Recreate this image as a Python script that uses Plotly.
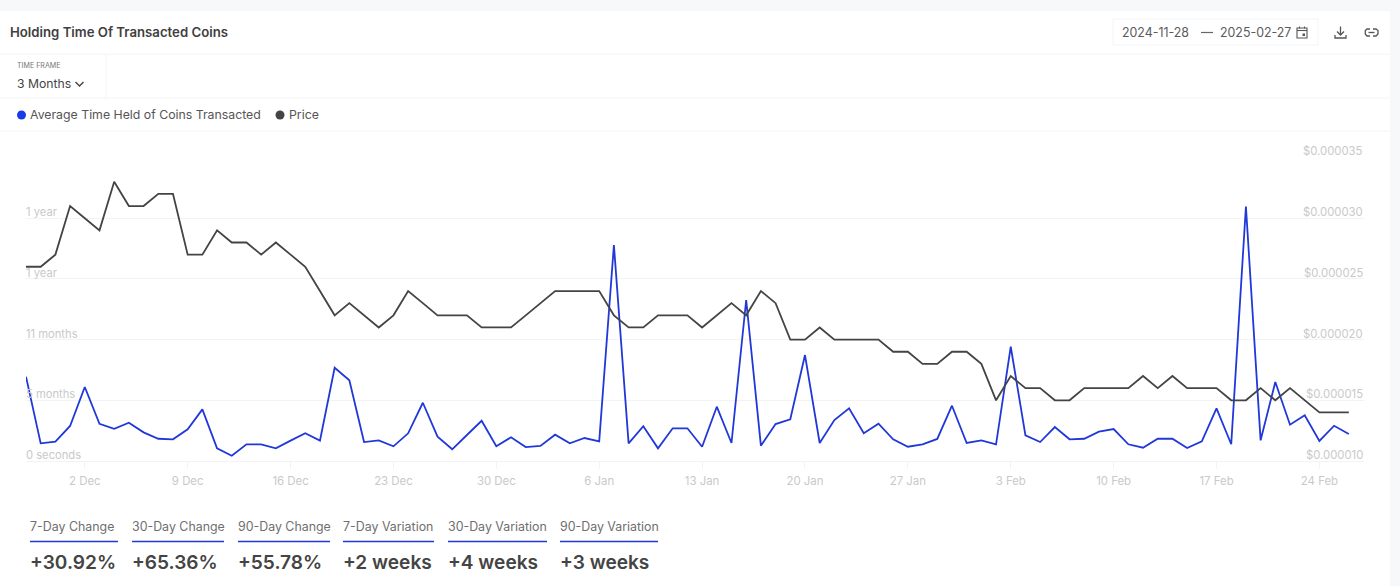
'''
Holding time of transacted coins chart with the page furniture around it
'''
import plotly.graph_objects as go
import pandas as pd

# Daily data, 28 Nov 2024 to 26 Feb 2025
dates = pd.date_range("2024-11-28", "2025-02-26", freq="D")
avg_time_held = [
    7.92, 1.66, 1.81, 3.29, 6.95, 3.50, 3.03, 3.60, 2.69, 2.09, 2.04, 2.98, 4.85,
    1.19, 0.50, 1.57, 1.57, 1.19, 1.91, 2.60, 1.91, 8.76, 7.58, 1.78, 1.94, 1.38,
    2.60, 5.47, 2.28, 1.10, 2.44, 3.78, 1.38, 2.23, 1.31, 1.41, 2.47, 1.66, 2.16,
    1.85, 20.28, 1.66, 3.26, 1.19, 3.07, 3.07, 1.34, 5.10, 1.69, 15.12, 1.44, 3.47,
    3.92, 9.95, 1.69, 3.85, 4.95, 2.60, 3.50, 2.04, 1.34, 1.57, 2.07, 5.19, 1.69,
    1.94, 1.57, 10.73, 2.41, 1.78, 3.19, 2.04, 2.09, 2.75, 3.00, 1.57, 1.25, 2.09,
    2.09, 1.22, 1.85, 4.95, 1.57, 23.90, 1.94, 7.42, 3.41, 4.29, 1.88, 3.31, 2.54]
price = [
    26, 26, 27, 31, 30, 29, 33, 31, 31, 32, 32, 27, 27, 29, 28, 28, 27, 28, 27, 26,
    24, 22, 23, 22, 21, 22, 24, 23, 22, 22, 22, 21, 21, 21, 22, 23, 24, 24, 24, 24,
    22, 21, 21, 22, 22, 22, 21, 22, 23, 22, 24, 23, 20, 20, 21, 20, 20, 20, 20, 19,
    19, 18, 18, 19, 19, 18, 15, 17, 16, 16, 15, 15, 16, 16, 16, 16, 17, 16, 17, 16,
    16, 16, 15, 15, 16, 15, 16, 15, 14, 14, 14]
price = [p / 1e6 for p in price]

held_ticks = [0, 5.7, 11.4, 17.1, 22.8]
held_labels = ["0 seconds", "5 months", "11 months", "1 year", "1 year"]
price_ticks = [0.000010, 0.000015, 0.000020, 0.000025, 0.000030, 0.000035]
price_labels = ["$0.000010", "$0.000015", "$0.000020", "$0.000025", "$0.000030", "$0.000035"]
date_ticks = pd.date_range("2024-12-02", "2025-02-24", freq="7D")
date_labels = ["2 Dec", "9 Dec", "16 Dec", "23 Dec", "30 Dec", "6 Jan", "13 Jan",
               "20 Jan", "27 Jan", "3 Feb", "10 Feb", "17 Feb", "24 Feb"]

stat_names = ["7-Day Change", "30-Day Change", "90-Day Change",
              "7-Day Variation", "30-Day Variation", "90-Day Variation"]
stat_values = ["+30.92%", "+65.36%", "+55.78%", "+2 weeks", "+4 weeks", "+3 weeks"]
stat_left = [30, 132, 238, 343, 448, 560]
stat_right = [118, 224, 330, 434, 547, 658]

W = 1400
H = 586
BLUE = "#2138d8"
DOT_BLUE = "#1a3be8"
DARK = "#444444"
GRID = "#f2f3f5"
BORDER = "#f3f4f6"
AXIS_TEXT = "#c9c9c9"
FONT = "Inter"


def px(x):
    return x / W


def py(y):
    return 1 - y / H


def box(x0, y0, x1, y1, **kw):
    return dict(type="rect", xref="paper", yref="paper", layer="below",
                x0=px(x0), x1=px(x1), y0=py(y0), y1=py(y1), **kw)


def rule(x0, y0, x1, y1, color=BORDER, width=1):
    return dict(type="line", xref="paper", yref="paper", layer="below",
                x0=px(x0), x1=px(x1), y0=py(y0), y1=py(y1),
                line=dict(color=color, width=width))


def dot(cx, cy, r, color):
    return dict(type="circle", xref="paper", yref="paper",
                x0=px(cx - r), x1=px(cx + r), y0=py(cy - r), y1=py(cy + r),
                fillcolor=color, line=dict(width=0))


def label(x, y, text, size, color="#555555", weight=400, anchor="left"):
    return dict(xref="paper", yref="paper", x=px(x), y=py(y), text=text, showarrow=False,
                xanchor=anchor, yanchor="middle", borderpad=0, borderwidth=0,
                font=dict(family=FONT, size=size, color=color, weight=weight))


def tick_label(x, yref, y, text, anchor, size):
    # axis labels sit just above their gridline, which native inside ticks can't do at the ends
    return dict(xref="paper", yref=yref, x=px(x), y=y, yshift=6, text=text, showarrow=False,
                xanchor=anchor, yanchor="middle", borderpad=0, borderwidth=0,
                font=dict(family=FONT, size=size, color=AXIS_TEXT))


def trail(points, color="#555555", width=1.3, closed=False):
    # small open or closed outline, in page pixels
    d = "M" + " L".join(f"{px(x):.5f},{py(y):.5f}" for x, y in points)
    if closed:
        d += " Z"
    return dict(type="path", xref="paper", yref="paper", path=d,
                line=dict(color=color, width=width))


fig = go.Figure()
fig.add_trace(go.Scatter(x=dates, y=price, yaxis="y2", mode="lines", name="Price",
                         line=dict(color=DARK, width=1.8), showlegend=False))
fig.add_trace(go.Scatter(x=dates, y=avg_time_held, mode="lines",
                         name="Average Time Held of Coins Transacted",
                         line=dict(color=BLUE, width=1.8), showlegend=False))

shapes = [
    # page band and panel
    box(0, 0, W, H, fillcolor="#f7f8fa", line=dict(width=0)),
    box(0, 11, 1390, H, fillcolor="#ffffff", line=dict(width=0)),
    rule(0, 54, 1390, 54),
    rule(0, 98, 1390, 98),
    rule(0, 131, 1390, 131),
    rule(106, 54, 106, 98),
    # date picker
    dict(type="path", xref="paper", yref="paper", layer="below",
         path=f"M{px(1113)},{py(19)} L{px(1318)},{py(19)} L{px(1318)},{py(45)} "
              f"L{px(1113)},{py(45)} Z",
         line=dict(color=BORDER, width=1)),
    rule(1201, 32.5, 1213, 32.5, color="#666666", width=1.2),
    # calendar icon
    trail([(1297, 28), (1307, 28), (1307, 38), (1297, 38)], closed=True, width=1.1),
    rule(1297, 30.5, 1307, 30.5, color="#555555", width=1.1),
    rule(1299.5, 26.5, 1299.5, 28.5, color="#555555", width=1.1),
    rule(1304.5, 26.5, 1304.5, 28.5, color="#555555", width=1.1),
    box(1302.5, 33.5, 1305, 36, fillcolor="#555555", line=dict(width=0)),
    # download icon
    trail([(1340.5, 26.5), (1340.5, 34.5)]),
    trail([(1337, 31.5), (1340.5, 35), (1344, 31.5)]),
    trail([(1335, 35), (1335, 38), (1346, 38), (1346, 35)]),
    # link icon
    trail([(1370, 29), (1367, 29), (1365.3, 30.5), (1365.3, 34), (1367, 36), (1370, 36)]),
    trail([(1373, 29), (1376, 29), (1378, 30.5), (1378, 34), (1376, 36), (1373, 36)]),
    rule(1368.5, 32.5, 1374.5, 32.5, color="#555555", width=1.3),
    # time frame chevron
    trail([(75.5, 82), (79.5, 86), (83.5, 82)], color="#444444", width=1.4),
    # legend dots
    dot(21.5, 115, 4.5, DOT_BLUE),
    dot(280, 115, 4.5, DARK),
]
shapes += [rule(a, 541.5, b, 541.5, color=BLUE, width=1.6) for a, b in zip(stat_left, stat_right)]

annotations = [
    label(10, 32, "Holding Time Of Transacted Coins", 13.2, "#3f3f3f", 600),
    label(1122, 32, "2024-11-28", 12.4, "#5a5a5a"),
    label(1220, 32, "2025-02-27", 12.4, "#5a5a5a"),
    label(17, 65.5, "TIME FRAME", 7.1, "#777777"),
    label(17, 83.5, "3 Months", 12.2, "#444444"),
    label(30, 114.5, "Average Time Held of Coins Transacted", 12.3, "#555555"),
    label(289, 114.5, "Price", 12.3, "#555555"),
]
for x, name, value in zip(stat_left, stat_names, stat_values):
    annotations.append(label(x, 526.5, name, 12.4, "#6f6f6f"))
    annotations.append(label(x, 561.5, value, 19.1, "#444444", 600))
for y, text in zip(held_ticks, held_labels):
    annotations.append(tick_label(26, "y", y, text, "left", 11.2))
for y, text in zip(price_ticks, price_labels):
    annotations.append(tick_label(1363, "y2", y, text, "right", 11.3))

fig.update_layout(
    width=W, height=H,
    margin=dict(l=0, r=0, t=0, b=0),
    paper_bgcolor="#ffffff",
    plot_bgcolor="rgba(0,0,0,0)",
    font=dict(family=FONT),
    showlegend=False,
    shapes=shapes,
    annotations=annotations,
    xaxis=dict(
        domain=[px(26), px(1363.5)],
        range=["2024-11-28", "2025-02-27"],
        tickmode="array", tickvals=date_ticks, ticktext=date_labels,
        ticks="outside", ticklen=7, tickcolor=GRID, tickwidth=1, ticklabelstandoff=2,
        tickfont=dict(family=FONT, size=11.4, color=AXIS_TEXT),
        showgrid=False, zeroline=False, showline=True, linecolor=GRID,
    ),
    yaxis=dict(
        domain=[py(461), py(157.5)],
        range=[0, 28.5],
        tickmode="array", tickvals=held_ticks,
        showticklabels=False, ticks="", showgrid=False, zeroline=False, showline=False,
    ),
    yaxis2=dict(
        domain=[py(461), py(157.5)],
        range=[0.000010, 0.000035],
        overlaying="y", side="right", anchor="x",
        tickmode="array", tickvals=price_ticks,
        showticklabels=False, ticks="", showgrid=True, gridcolor=GRID, gridwidth=1,
        zeroline=False, showline=False,
    ),
)

fig.write_html("out.html", config=dict(displayModeBar=False),
               post_script="document.body.style.margin='0';")
